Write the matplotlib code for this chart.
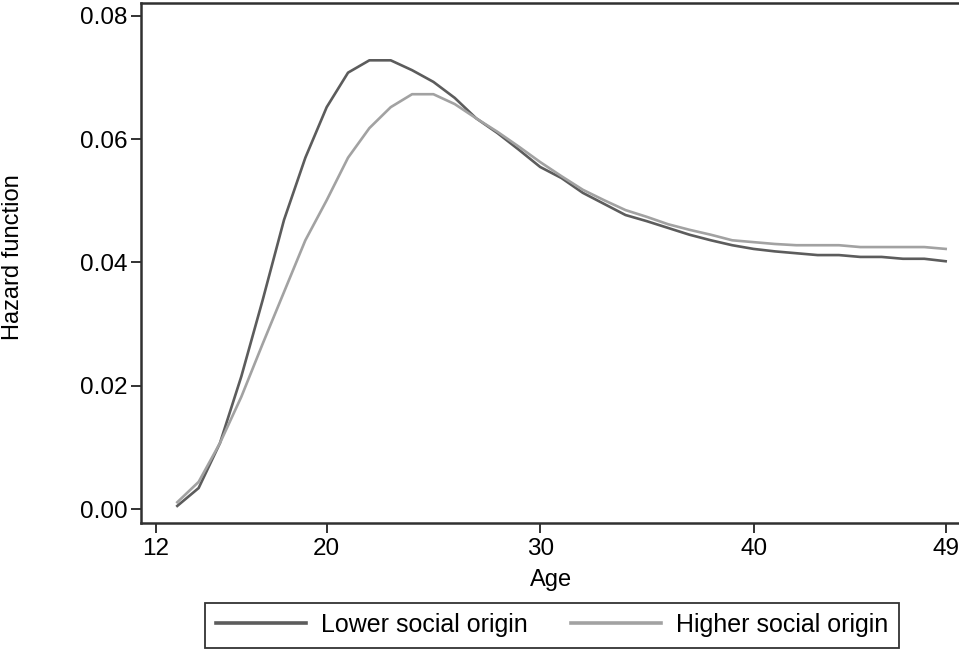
import matplotlib
matplotlib.use("Agg")
import matplotlib.pyplot as plt
from matplotlib.ticker import FormatStrFormatter

plt.rcParams['font.family'] = ['Liberation Sans', 'DejaVu Sans']

ages = list(range(13, 50))

lower = [0.0005, 0.0034, 0.0107, 0.0215, 0.0339, 0.0469, 0.0570, 0.0652,
         0.0708, 0.0728, 0.0728, 0.0712, 0.0693, 0.0667, 0.0634, 0.0610,
         0.0583, 0.0555, 0.0537, 0.0513, 0.0495, 0.0477, 0.0467, 0.0456,
         0.0445, 0.0436, 0.0428, 0.0422, 0.0418, 0.0415, 0.0412, 0.0412,
         0.0409, 0.0409, 0.0406, 0.0406, 0.0402]

higher = [0.0011, 0.0044, 0.0107, 0.0182, 0.0268, 0.0352, 0.0436, 0.0501,
          0.0570, 0.0618, 0.0652, 0.0673, 0.0673, 0.0657, 0.0634, 0.0612,
          0.0588, 0.0563, 0.0540, 0.0518, 0.0501, 0.0485, 0.0474, 0.0462,
          0.0453, 0.0445, 0.0436, 0.0433, 0.0430, 0.0428, 0.0428, 0.0428,
          0.0425, 0.0425, 0.0425, 0.0425, 0.0422]

x_ticks = [12, 20, 30, 40, 49]
y_ticks = [0.00, 0.02, 0.04, 0.06, 0.08]

W, H = 959, 650
fig = plt.figure(figsize=(W / 100, H / 100), dpi=100)
ax = fig.add_axes([141 / W, 1 - 523 / H, (967 - 141) / W, (523 - 3) / H])

l1, = ax.plot(ages, lower, color='#5c5c5c', lw=1.9, label='Lower social origin')
l2, = ax.plot(ages, higher, color='#a2a2a2', lw=1.9, label='Higher social origin')

ax.set_xlim(11.3, 50.0)
ax.set_ylim(-0.00227, 0.0821)
ax.set_xticks(x_ticks)
ax.set_yticks(y_ticks)
ax.yaxis.set_major_formatter(FormatStrFormatter('%.2f'))
ax.tick_params(direction='out', length=7, width=1.3, colors='#222222',
               labelsize=17.5, labelcolor='black')
ax.tick_params(axis='x', pad=4)
ax.tick_params(axis='y', pad=2.5)
for s in ax.spines.values():
    s.set_linewidth(1.8)
    s.set_color('#303030')

# axis titles
fig.text(551 / W, 1 - 580 / H, 'Age', fontsize=17, ha='center', va='center')
fig.text(13 / W, 1 - 257 / H, 'Hazard function', fontsize=17, rotation=90,
         ha='center', va='center')

leg = fig.legend(handles=[l1, l2], loc='center',
                 bbox_to_anchor=(552 / W, 1 - 625 / H), ncol=2,
                 fontsize=18, frameon=True, fancybox=False, edgecolor='black',
                 handlelength=3.6, columnspacing=1.7, handletextpad=0.62,
                 borderpad=0.42, borderaxespad=0)
leg.get_frame().set_linewidth(1.3)
for h in leg.get_lines():
    h.set_linewidth(2.6)

fig.savefig('out.png', dpi=100)
